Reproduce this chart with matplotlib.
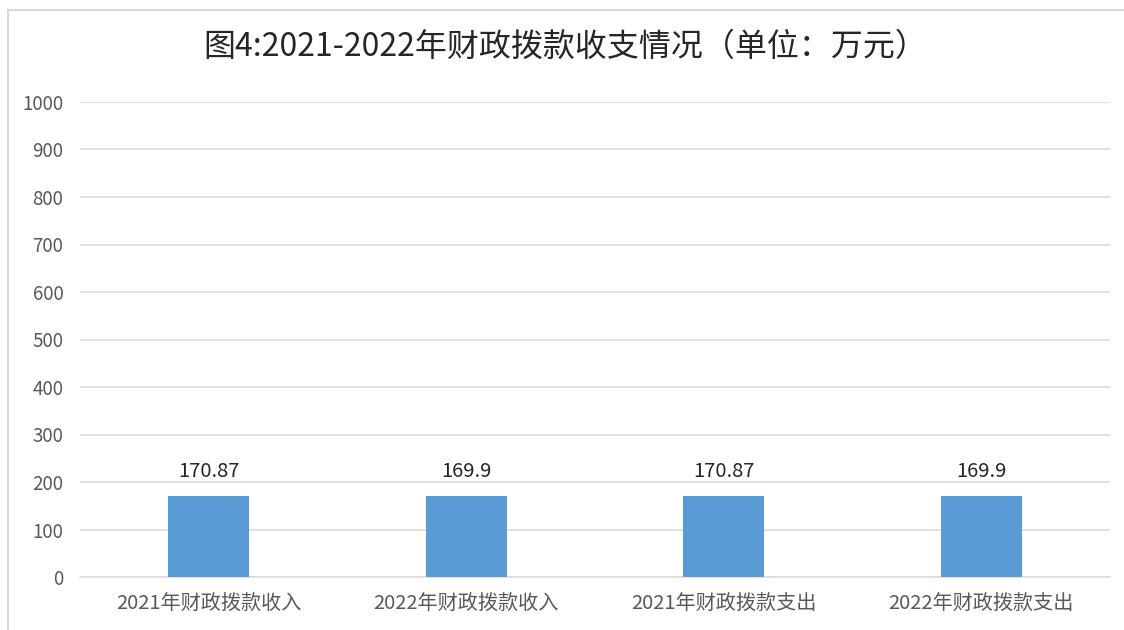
import matplotlib
matplotlib.use('Agg')
import matplotlib.pyplot as plt
from matplotlib.patches import Rectangle

plt.rcParams['font.family'] = ['Noto Sans CJK SC', 'DejaVu Sans']

categories = ['2021年财政拨款收入', '2022年财政拨款收入',
              '2021年财政拨款支出', '2022年财政拨款支出']
values = [170.87, 169.9, 170.87, 169.9]
labels = ['170.87', '169.9', '170.87', '169.9']
yticks = list(range(0, 1001, 100))

BAR = '#5B9BD5'
GRID = '#D9D9D9'
TXT = '#595959'

fig = plt.figure(figsize=(11.24, 6.3), dpi=100)
fig.patch.set_facecolor('white')
ax = fig.add_axes([80 / 1124, 1 - 577 / 630, 1030 / 1124, 475 / 630])

# outer chart frame
fig.patches.append(Rectangle((8 / 1124, -0.05), 1.2, 1 - 10 / 630 + 0.05,
                             transform=fig.transFigure, fill=False,
                             edgecolor='#D9D9D9', lw=1.5))

x = range(len(categories))
ax.bar(x, values, width=0.315, color=BAR, zorder=3)
for xi, v, t in zip(x, values, labels):
    ax.text(xi, v + 30, t, ha='center', va='bottom', fontsize=14.5,
            color='#262626')

ax.set_xlim(-0.5, len(categories) - 0.5)
ax.set_ylim(0, 1000)
ax.set_yticks(yticks)
ax.set_yticklabels([str(t) for t in yticks], fontsize=13.5, color=TXT)
ax.set_xticks(list(x))
ax.set_xticklabels(categories, fontsize=14.5, color=TXT)
ax.tick_params(length=0, pad=12)
ax.tick_params(axis='x', pad=12)
ax.grid(axis='y', color=GRID, lw=1.1, zorder=0)
for s in ('top', 'right', 'left'):
    ax.spines[s].set_visible(False)
ax.spines['bottom'].set_color(GRID)
ax.spines['bottom'].set_linewidth(1.1)

fig.text(565 / 1124, 1 - 47 / 630, '图4:2021-2022年财政拨款收支情况（单位：万元）',
         ha='center', va='center', fontsize=23, color='#262626')

fig.savefig('out.png', dpi=100)
